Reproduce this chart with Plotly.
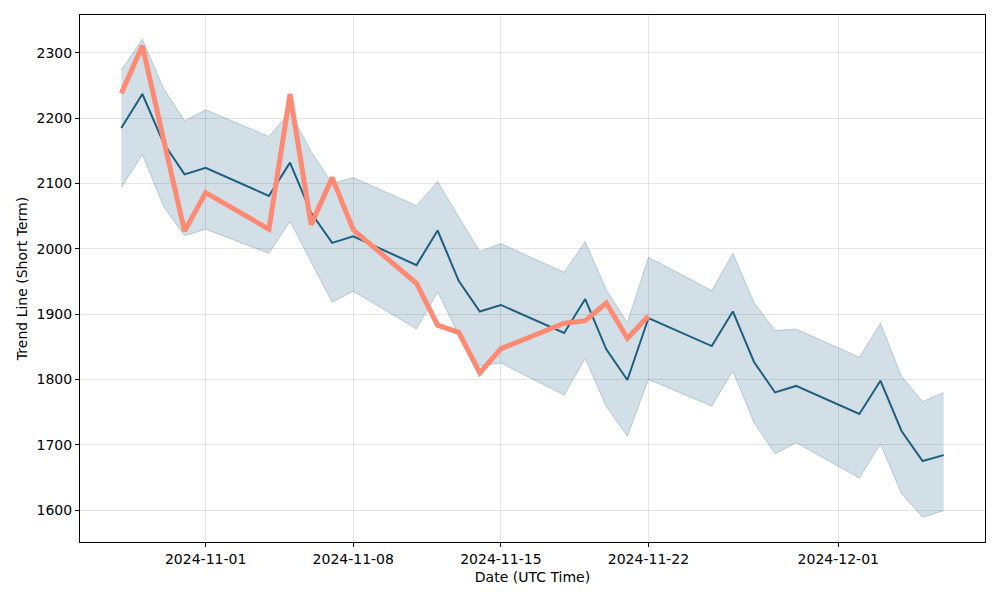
import plotly.graph_objects as go

dates = ["2024-10-28", "2024-10-29", "2024-10-30", "2024-10-31", "2024-11-01",
         "2024-11-04", "2024-11-05", "2024-11-06", "2024-11-07", "2024-11-08",
         "2024-11-11", "2024-11-12", "2024-11-13", "2024-11-14", "2024-11-15",
         "2024-11-18", "2024-11-19", "2024-11-20", "2024-11-21", "2024-11-22",
         "2024-11-25", "2024-11-26", "2024-11-27", "2024-11-28", "2024-11-29",
         "2024-12-02", "2024-12-03", "2024-12-04", "2024-12-05", "2024-12-06"]

trend = [2185, 2237, 2162, 2114, 2124,
         2081, 2132, 2055, 2009, 2019,
         1975, 2028, 1951, 1904, 1914,
         1871, 1923, 1846, 1799, 1894,
         1851, 1904, 1827, 1780, 1790,
         1747, 1798, 1721, 1675, 1684]

upper = [2274, 2321, 2246, 2196, 2213,
         2172, 2210, 2149, 2100, 2109,
         2066, 2103, 2049, 1996, 2008,
         1964, 2011, 1937, 1887, 1987,
         1936, 1993, 1918, 1875, 1877,
         1834, 1886, 1805, 1766, 1780]

lower = [2094, 2144, 2065, 2020, 2030,
         1993, 2042, 1980, 1918, 1935,
         1877, 1934, 1868, 1821, 1825,
         1776, 1832, 1758, 1713, 1800,
         1759, 1813, 1734, 1686, 1703,
         1649, 1701, 1625, 1589, 1599]

actual_dates = dates[:20]
actual = [2238, 2311, 2168, 2027, 2086,
          2030, 2237, 2037, 2109, 2029,
          1947, 1883, 1872, 1810, 1847,
          1886, 1890, 1917, 1863, 1897]

x_ticks = ["2024-11-01", "2024-11-08", "2024-11-15", "2024-11-22", "2024-12-01"]

dark = "#1d5f80"
band_fill = "rgba(29,95,128,0.2)"
band_edge = "rgba(29,95,128,0.25)"
salmon = "#ff8a73"

fig = go.Figure()
fig.add_trace(go.Scatter(x=dates, y=upper, mode="lines",
                         line=dict(color=band_edge, width=1), showlegend=False,
                         hoverinfo="skip"))
fig.add_trace(go.Scatter(x=dates, y=lower, mode="lines", fill="tonexty",
                         fillcolor=band_fill,
                         line=dict(color=band_edge, width=1), showlegend=False,
                         hoverinfo="skip"))
fig.add_trace(go.Scatter(x=dates, y=trend, mode="lines",
                         line=dict(color=dark, width=2), showlegend=False))
fig.add_trace(go.Scatter(x=actual_dates, y=actual, mode="lines",
                         line=dict(color=salmon, width=5), showlegend=False))

axis_common = dict(
    showline=True, linecolor="black", linewidth=1, mirror=True,
    ticks="outside", ticklen=4, tickcolor="black",
    showgrid=True, gridcolor="rgba(0,0,0,0.1)", gridwidth=1,
    zeroline=False, automargin=False,
    tickfont=dict(family="DejaVu Sans", size=14, color="black"),
)

fig.update_layout(
    width=1000, height=600,
    margin=dict(l=72, r=23, t=7, b=66),
    plot_bgcolor="white", paper_bgcolor="white",
    font=dict(family="DejaVu Sans", size=14, color="black"),
    xaxis=dict(**axis_common, range=["2024-10-26 01:00", "2024-12-07 23:00"],
               tickvals=x_ticks, ticktext=x_ticks,
               title=dict(text="Date (UTC Time)", font=dict(size=14), standoff=6)),
    yaxis=dict(**axis_common, range=[1551, 2358], dtick=100,
               title=dict(text="Trend Line (Short Term)", font=dict(size=14), standoff=5)),
)

fig.write_html("out.html")
